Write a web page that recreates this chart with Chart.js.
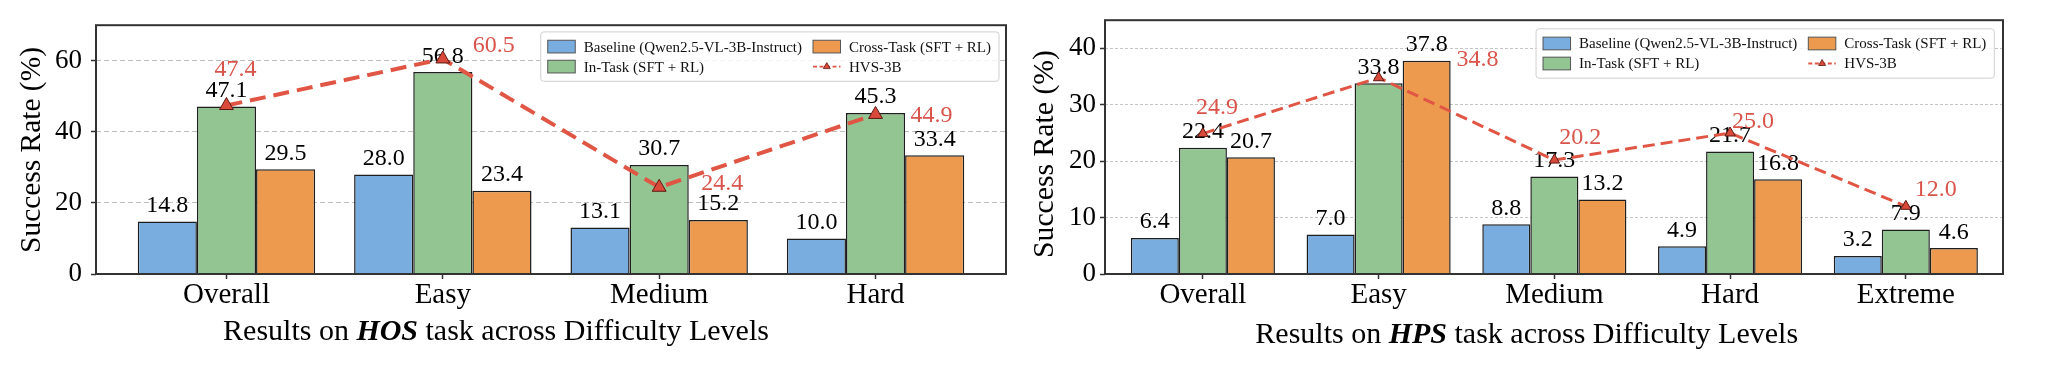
<!DOCTYPE html>
<html><head><meta charset="utf-8">
<script src="https://cdn.jsdelivr.net/npm/chart.js@4"></script>
<style>
html,body{margin:0;padding:0;background:#fff;}
#wrap{position:relative;width:2048px;height:369px;overflow:hidden;background:#fff;}
canvas{position:absolute;top:0;}
</style></head><body>
<div id="wrap">
<canvas id="hos" width="1024" height="369" style="left:0"></canvas>
<canvas id="hps" width="1024" height="369" style="left:1024px"></canvas>
</div>
<script>
// ---------------- data ----------------
const hosCategories = ['Overall', 'Easy', 'Medium', 'Hard'];
const hosBaseline   = [14.8, 28.0, 13.1, 10.0];
const hosInTask     = [47.1, 56.8, 30.7, 45.3];
const hosCrossTask  = [29.5, 23.4, 15.2, 33.4];
const hosHVS        = [47.4, 60.5, 24.4, 44.9];
const hosYTicks     = [0, 20, 40, 60];

const hpsCategories = ['Overall', 'Easy', 'Medium', 'Hard', 'Extreme'];
const hpsBaseline   = [6.4, 7.0, 8.8, 4.9, 3.2];
const hpsInTask     = [22.4, 33.8, 17.3, 21.7, 7.9];
const hpsCrossTask  = [20.7, 37.8, 13.2, 16.8, 4.6];
const hpsHVS        = [24.9, 34.8, 20.2, 25.0, 12.0];
const hpsYTicks     = [0, 10, 20, 30, 40];

const seriesLabels = ['Baseline (Qwen2.5-VL-3B-Instruct)', 'In-Task (SFT + RL)', 'Cross-Task (SFT + RL)', 'HVS-3B'];
const yTitle = 'Success Rate (%)';

// annotation offsets (pixels, label centre relative to the point)
const hosHVSLabelOffsets = [[9, -37], [51, -15], [63, -5], [56, 0]];
const hpsHVSLabelOffsets = [[14, -27], [99, -20], [26, -24], [23, -13], [30, -18]];

// ---------------- styles ----------------
const FONT = "'Liberation Serif','Times New Roman',serif";
Chart.defaults.font.family = FONT;
Chart.defaults.color = '#000';
const COL = {
  baseline: '#79ADE0', inTask: '#92C592', crossTask: '#EE9A4E',
  hvs: '#E05544', hvsMarker: '#DA4A3A', hvsText: '#D9544A', edge: '#1e1e1e'
};

function toPoints(arr) { return arr.map((v, i) => ({x: i, y: v})); }

function roundRect(ctx, x, y, w, h, r) {
  ctx.beginPath();
  ctx.moveTo(x + r, y);
  ctx.lineTo(x + w - r, y); ctx.arcTo(x + w, y, x + w, y + r, r);
  ctx.lineTo(x + w, y + h - r); ctx.arcTo(x + w, y + h, x + w - r, y + h, r);
  ctx.lineTo(x + r, y + h); ctx.arcTo(x, y + h, x, y + h - r, r);
  ctx.lineTo(x, y + r); ctx.arcTo(x, y, x + r, y, r);
  ctx.closePath();
}

const decorPlugin = {
  id: 'decor',
  beforeDatasetDraw(chart, args, o) {
    const ds = chart.data.datasets[args.index];
    if (ds.type !== 'line') return;
    // value labels above bars (drawn before the line so the markers sit on top)
    const ctx = chart.ctx;
    ctx.save();
    ctx.font = `${o.valueSize}px ${FONT}`;
    ctx.fillStyle = '#000'; ctx.textAlign = 'center'; ctx.textBaseline = 'alphabetic';
    chart.data.datasets.forEach((d, di) => {
      if (d.type === 'line') return;
      chart.getDatasetMeta(di).data.forEach((el, i) => {
        ctx.fillText(d.data[i].y.toFixed(1), el.x, el.y - o.valueGap);
      });
    });
    ctx.restore();
  },
  afterDatasetsDraw(chart, args, o) {
    const ctx = chart.ctx, a = chart.chartArea;
    ctx.save();
    // frame (spines)
    ctx.setLineDash([]);
    ctx.strokeStyle = '#333'; ctx.lineWidth = 2;
    ctx.strokeRect(a.left, a.top, a.right - a.left, a.bottom - a.top);
    // HVS labels
    chart.data.datasets.forEach((d, di) => {
      if (d.type !== 'line') return;
      ctx.font = `${o.valueSize}px ${FONT}`;
      ctx.fillStyle = COL.hvsText; ctx.textAlign = 'center'; ctx.textBaseline = 'alphabetic';
      chart.getDatasetMeta(di).data.forEach((el, i) => {
        const off = o.hvsOffsets[i];
        ctx.fillText(d.data[i].y.toFixed(1), el.x + off[0], el.y + off[1] + 0.33 * o.valueSize);
      });
    });
    // legend (2 rows, column-major)
    const L = o.legend;
    ctx.font = `${L.size}px ${FONT}`;
    const items = chart.data.datasets;
    const rows = 2, cols = Math.ceil(items.length / rows);
    const colW = [];
    for (let c = 0; c < cols; c++) {
      let w = 0;
      for (let r = 0; r < rows; r++) {
        const it = items[c * rows + r];
        if (!it) continue;
        w = Math.max(w, L.patchW + L.gap + ctx.measureText(it.label).width);
      }
      colW.push(w);
    }
    const boxW = L.padL + colW.reduce((s, v) => s + v, 0) + L.colGap * (cols - 1) + L.padR;
    const boxH = L.padY * 2 + rows * L.rowH;
    const bx = a.right - L.right - boxW, by = a.top + L.top;
    roundRect(ctx, bx, by, boxW, boxH, 3);
    ctx.fillStyle = 'rgba(255,255,255,0.8)'; ctx.fill();
    ctx.strokeStyle = '#cfcfcf'; ctx.lineWidth = 1; ctx.stroke();
    let cx = bx + L.padL;
    for (let c = 0; c < cols; c++) {
      for (let r = 0; r < rows; r++) {
        const it = items[c * rows + r];
        if (!it) continue;
        const cy = by + L.padY + r * L.rowH + L.rowH / 2;
        if (it.type === 'line') {
          ctx.save();
          ctx.strokeStyle = it.borderColor; ctx.lineWidth = L.lineW; ctx.setLineDash(L.dash);
          ctx.beginPath(); ctx.moveTo(cx, cy); ctx.lineTo(cx + L.patchW, cy); ctx.stroke();
          ctx.restore();
          ctx.setLineDash([]);
          const rr = L.markerR, mx = cx + L.patchW / 2;
          ctx.fillStyle = it.pointBackgroundColor; ctx.strokeStyle = it.pointBorderColor;
          ctx.beginPath();
          ctx.moveTo(mx, cy - rr);
          ctx.lineTo(mx + rr * 0.866, cy + rr / 2);
          ctx.lineTo(mx - rr * 0.866, cy + rr / 2);
          ctx.closePath(); ctx.fill(); ctx.lineWidth = 0.8; ctx.stroke();
        } else {
          ctx.fillStyle = it.backgroundColor;
          ctx.fillRect(cx, cy - L.patchH / 2, L.patchW, L.patchH);
          ctx.strokeStyle = '#555'; ctx.lineWidth = 1;
          ctx.strokeRect(cx, cy - L.patchH / 2, L.patchW, L.patchH);
        }
        ctx.fillStyle = '#111'; ctx.textAlign = 'left'; ctx.textBaseline = 'middle';
        ctx.fillText(it.label, cx + L.patchW + L.gap, cy + 1);
      }
      cx += colW[c] + L.colGap;
    }
    ctx.restore();
  },
  afterDraw(chart, args, o) {
    const ctx = chart.ctx;
    ctx.save();
    ctx.fillStyle = '#000';
    // y title, sized to the span it covers in the original figure
    ctx.font = `${o.titleSize}px ${FONT}`;
    const ySize = o.titleSize * o.yTitleLen / ctx.measureText(yTitle).width;
    ctx.font = `${ySize}px ${FONT}`;
    ctx.translate(o.yTitle[0], o.yTitle[1]);
    ctx.rotate(-Math.PI / 2);
    ctx.textAlign = 'center'; ctx.textBaseline = 'alphabetic';
    ctx.fillText(yTitle, 0, 0);
    ctx.setTransform(1, 0, 0, 1, 0, 0);
    // x title with bold-italic task name
    const mk = s => [
      {t: 'Results on ', f: `${s}px ${FONT}`},
      {t: o.task, f: `italic bold ${s}px ${FONT}`},
      {t: ' task across Difficulty Levels', f: `${s}px ${FONT}`}
    ];
    const measure = parts => parts.reduce((tot, p) => { ctx.font = p.f; p.w = ctx.measureText(p.t).width; return tot + p.w; }, 0);
    let parts = mk(o.titleSize);
    const xSize = o.titleSize * o.xTitleLen / measure(parts);
    parts = mk(xSize);
    const total = measure(parts);
    let x = o.xTitle[0] - total / 2;
    ctx.textAlign = 'left';
    parts.forEach(p => { ctx.font = p.f; ctx.fillText(p.t, x, o.xTitle[1]); x += p.w; });
    ctx.restore();
  }
};

function makeChart(id, c) {
  const canvas = document.getElementById(id);
  const W = canvas.width, H = canvas.height;
  const barStyle = {borderColor: COL.edge, borderWidth: 1.5, order: 1};
  return new Chart(canvas.getContext('2d'), {
    type: 'bar',
    data: {
      datasets: [
        Object.assign({label: seriesLabels[0], data: toPoints(c.baseline), backgroundColor: COL.baseline}, barStyle),
        Object.assign({label: seriesLabels[1], data: toPoints(c.inTask), backgroundColor: COL.inTask}, barStyle),
        Object.assign({label: seriesLabels[2], data: toPoints(c.crossTask), backgroundColor: COL.crossTask}, barStyle),
        {type: 'line', label: seriesLabels[3], data: toPoints(c.hvs), borderColor: COL.hvs, borderWidth: c.lineW,
         borderDash: c.dash, pointStyle: 'triangle', pointRadius: c.pointR, pointBackgroundColor: COL.hvsMarker,
         pointBorderColor: '#5a1a12', pointBorderWidth: 1, fill: false, tension: 0, order: 0}
      ]
    },
    options: {
      responsive: false, animation: false, devicePixelRatio: 1,
      layout: {padding: {left: 0, right: W - c.area.right, top: c.area.top, bottom: 0}},
      datasets: {bar: {categoryPercentage: 0.82, barPercentage: 1}},
      plugins: {
        legend: {display: false}, tooltip: {enabled: false},
        decor: {
          valueSize: 24, valueGap: 9.5, hvsOffsets: c.hvsOffsets, titleSize: 29.5,
          yTitle: c.yTitle, yTitleLen: c.yTitleLen, xTitle: c.xTitle, xTitleLen: c.xTitleLen, task: c.task,
          legend: {size: 15, right: c.legendInset[0], top: c.legendInset[1], padL: 7, padR: 8, padY: 4.7, rowH: 20,
                   patchW: 27.5, patchH: 12.7, gap: 8.5, colGap: 11, lineW: 1.8, dash: [4, 2.5], markerR: 4}
        }
      },
      scales: {
        x: {
          type: 'linear', min: c.xMin, max: c.xMax, offset: false,
          afterBuildTicks: s => { s.ticks = c.categories.map((_, i) => ({value: i})); },
          afterFit: s => { s.height = H - c.area.bottom; },
          ticks: {callback: v => c.categories[v] ?? '', font: {size: 29, lineHeight: 1}, color: '#000',
                  padding: 2, maxRotation: 0, autoSkip: false},
          grid: {offset: false, drawOnChartArea: false, drawTicks: true, tickLength: 5, tickColor: '#333', tickWidth: 1.5},
          border: {display: false}
        },
        y: {
          type: 'linear', min: 0, max: c.yMax,
          afterBuildTicks: s => { s.ticks = c.yTicks.map(v => ({value: v})); },
          afterFit: s => { s.width = c.area.left; },
          ticks: {font: {size: 27}, color: '#000', padding: c.yPad},
          grid: {offset: false, color: c.gridColor, lineWidth: 1, tickLength: 5, tickColor: '#333', tickWidth: 1.5, tickBorderDash: []},
          border: {display: false, dash: c.gridDash}
        }
      }
    },
    plugins: [decorPlugin]
  });
}

makeChart('hos', {
  categories: hosCategories, baseline: hosBaseline, inTask: hosInTask, crossTask: hosCrossTask, hvs: hosHVS,
  yTicks: hosYTicks, yMax: 70, xMin: -0.603, xMax: 3.603,
  area: {left: 96, right: 1006, top: 4, bottom: 274},
  lineW: 4, dash: [16, 8], pointR: 8, yPad: 9, gridDash: [5, 3], gridColor: '#bdbdbd',
  hvsOffsets: hosHVSLabelOffsets, yTitle: [40, 150], yTitleLen: 206, xTitle: [496, 340], xTitleLen: 546,
  task: 'HOS', legendInset: [7, 6.7]
});

makeChart('hps', {
  categories: hpsCategories, baseline: hpsBaseline, inTask: hpsInTask, crossTask: hpsCrossTask, hvs: hpsHVS,
  yTicks: hpsYTicks, yMax: 45, xMin: -0.557, xMax: 4.553,
  area: {left: 81, right: 979, top: 5, bottom: 274},
  lineW: 3, dash: [12, 6], pointR: 6, yPad: 4, gridDash: [3, 2], gridColor: '#c4c4c4',
  hvsOffsets: hpsHVSLabelOffsets, yTitle: [29.3, 154], yTitleLen: 208, xTitle: [502.7, 343.3], xTitleLen: 543,
  task: 'HPS', legendInset: [8.7, 8.6]
});
</script>
</body></html>
